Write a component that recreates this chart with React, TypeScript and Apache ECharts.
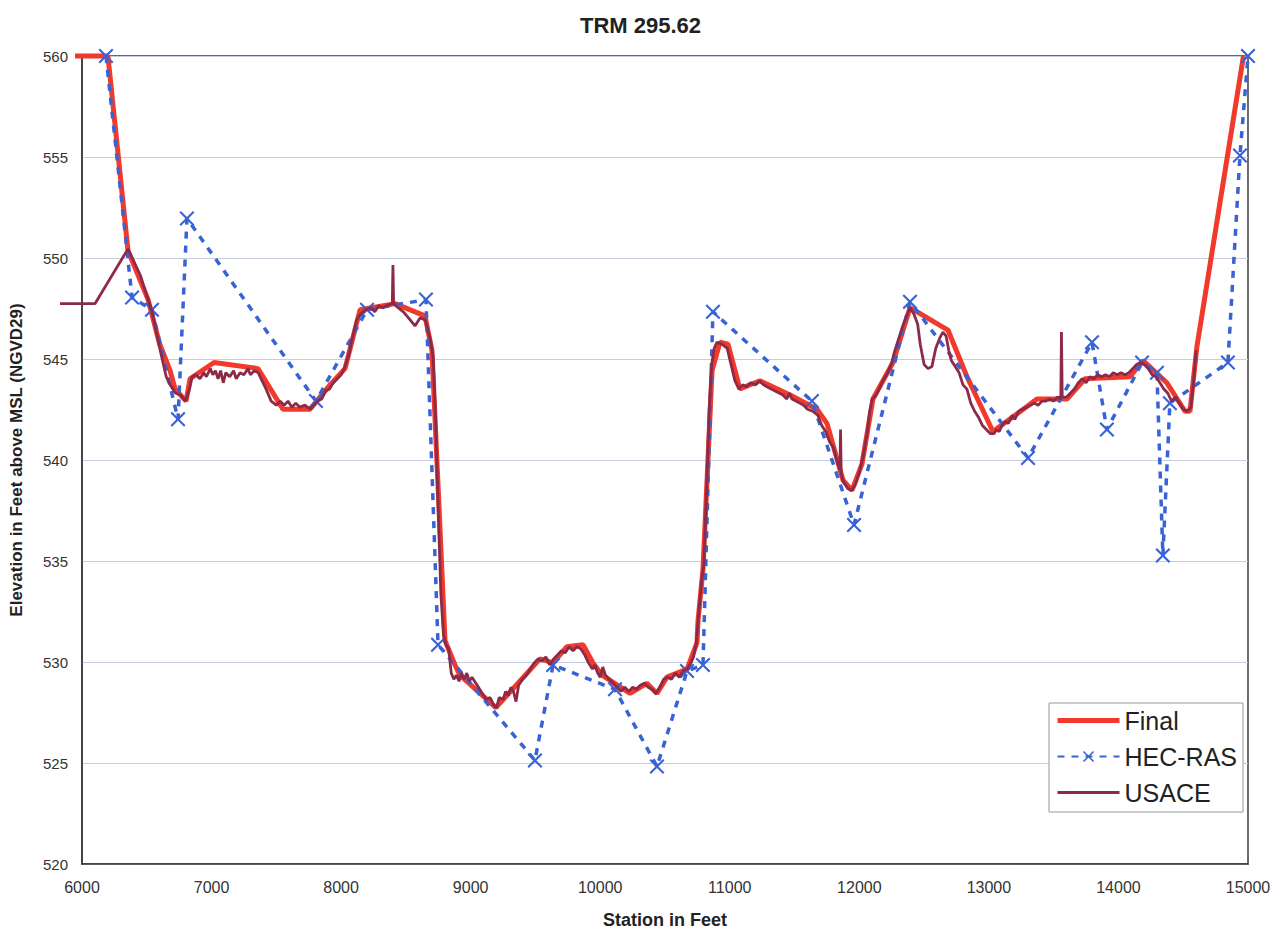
import React, { useEffect, useRef } from "react";
import * as echarts from "echarts";

// Cross-section TRM 295.62 — station (ft) vs elevation (ft, NGVD29)

const titleText = "TRM 295.62";
const xTicks = { min: 6000, max: 15000, interval: 1000 };
const yTicks = { min: 520, max: 560, interval: 5 };
// The plotted lines start a little before station 6000 and run past the left axis
const dataStationMin = 5830;

// Final adopted section
const finalStation = [
  5946, 6200, 6355, 6510, 6600, 6680, 6718, 6803, 6834, 7019, 7358, 7551, 7760, 7914,
  8030, 8146, 8416, 8647, 8701, 8802, 8879, 8917, 9195, 9535, 9636, 9743, 9867, 9944,
  10014, 10230, 10360, 10438, 10515, 10670, 10747, 10755, 10793, 10863, 10924, 10986,
  11078, 11233, 11465, 11673, 11750, 11874, 11943, 12020, 12105, 12260, 12391, 12684,
  12831, 13031, 13371, 13603, 13742, 14089, 14190, 14374, 14514, 14552, 14606, 14965,
];
const finalElev = [
  560.0, 560.0, 550.4, 548.0, 545.8, 544.5, 543.6, 543.0, 544.1, 544.9, 544.6, 542.6, 542.6, 543.8,
  544.6, 547.5, 547.8, 547.2, 545.5, 531.2, 530.0, 529.5, 527.9, 530.3, 530.1, 530.9, 531.0, 530.1,
  529.5, 528.6, 529.1, 528.6, 529.4, 529.8, 531.1, 532.2, 534.7, 544.5, 545.9, 545.8,
  543.6, 544.0, 543.3, 542.6, 541.9, 539.1, 538.6, 539.9, 543.1, 544.9, 547.6, 546.5,
  544.2, 541.5, 543.1, 543.1, 544.1, 544.2, 545.0, 543.9, 542.5, 542.5, 545.7, 560.0,
];

// HEC-RAS model section
const hecStation = [
  6185, 6386, 6540, 6741, 6810, 7806, 8200, 8655, 8748, 9496, 9636, 10114, 10438, 10670,
  10793, 10870, 11634, 11959, 12391, 13302, 13796, 13911, 14182, 14297, 14343, 14397,
  14845, 14938, 15000,
];
const hecElev = [
  560.0, 548.1, 547.5, 542.1, 552.0, 543.0, 547.5, 548.0, 531.0, 525.3, 530.0, 528.8, 525.0, 529.7,
  530.0, 547.4, 543.0, 536.9, 547.9, 540.2, 545.9, 541.6, 544.9, 544.4, 535.4, 542.9,
  544.9, 555.1, 560.0,
];

// USACE surveyed section
const usaceStation = [
  5830, 6100, 6355, 6450, 6540, 6600, 6650, 6680, 6720, 6760, 6800, 6830, 6850, 6880, 6910,
  6940, 6960, 6990, 7010, 7030, 7050, 7070, 7090, 7110, 7140, 7170, 7190, 7220, 7250, 7280,
  7300, 7330, 7360, 7390, 7420, 7460, 7500, 7530, 7560, 7590, 7620, 7650, 7680, 7720, 7760,
  7790, 7820, 7850, 7880, 7910, 7940, 7970, 8000, 8030, 8060, 8090, 8120, 8150, 8190, 8230,
  8260, 8290, 8320, 8350, 8395, 8400, 8405, 8440, 8480, 8520, 8570, 8610, 8650, 8690, 8710,
  8730, 8750, 8770, 8790, 8810, 8830, 8850, 8870, 8890, 8910, 8930, 8950, 8970, 8990, 9010,
  9030, 9060, 9090, 9120, 9150, 9180, 9200, 9220, 9250, 9270, 9290, 9310, 9330, 9350, 9370,
  9400, 9430, 9460, 9490, 9520, 9550, 9580, 9610, 9640, 9670, 9700, 9730, 9760, 9790, 9820,
  9850, 9880, 9910, 9940, 9960, 9980, 10000, 10020, 10040, 10070, 10100, 10130, 10160, 10190,
  10220, 10250, 10280, 10310, 10340, 10370, 10400, 10430, 10460, 10490, 10520, 10550, 10580,
  10610, 10640, 10670, 10700, 10720, 10740, 10760, 10780, 10800, 10820, 10840, 10860, 10880,
  10900, 10940, 10980, 11010, 11040, 11070, 11100, 11130, 11160, 11200, 11230, 11260, 11290,
  11320, 11350, 11380, 11410, 11440, 11460, 11480, 11510, 11540, 11570, 11600, 11640, 11680,
  11710, 11740, 11770, 11800, 11830, 11850, 11855, 11860, 11880, 11910, 11940, 11970, 12000,
  12030, 12060, 12080, 12100, 12130, 12160, 12190, 12220, 12250, 12270, 12300, 12340, 12391,
  12420, 12450, 12470, 12500, 12530, 12560, 12590, 12620, 12645, 12670, 12690, 12710, 12740,
  12770, 12800, 12830, 12860, 12890, 12920, 12950, 12980, 13010, 13040, 13060, 13080, 13100,
  13130, 13150, 13180, 13200, 13230, 13260, 13290, 13320, 13350, 13380, 13410, 13440, 13470,
  13500, 13530, 13555, 13560, 13566, 13600, 13630, 13660, 13690, 13720, 13750, 13780, 13810,
  13840, 13870, 13900, 13930, 13960, 13990, 14020, 14050, 14080, 14110, 14140, 14170, 14200,
  14230, 14260, 14290, 14320, 14350, 14380, 14410, 14440, 14470, 14500, 14530, 14560, 14580,
  14600,
];
const usaceElev = [
  547.8, 547.8, 550.5, 549.2, 547.4, 545.6, 544.2, 543.8, 543.4, 543.3, 543.0, 543.6, 544.2, 544.3, 544.1,
  544.4, 544.2, 544.6, 544.3, 544.5, 544.1, 544.5, 543.9, 544.4, 544.2, 544.5, 544.1, 544.4, 544.3, 544.6,
  544.3, 544.5, 544.4, 544.0, 543.6, 543.0, 542.8, 543.0, 542.8, 543.0, 542.7, 542.9, 542.7, 542.8, 542.6,
  542.8, 543.0, 543.1, 543.5, 543.6, 543.9, 544.1, 544.3, 544.7, 545.3, 546.2, 547.0, 547.3, 547.5, 547.6,
  547.4, 547.7, 547.6, 547.7, 547.8, 549.7, 547.8, 547.6, 547.4, 547.1, 546.7, 547.1, 547.0, 546.0, 545.2,
  542.0, 537.5, 533.5, 531.5, 531.0, 530.8, 529.6, 529.3, 529.5, 529.2, 529.6, 529.3, 529.6, 529.2, 529.4,
  529.2, 528.9, 528.6, 528.3, 528.4, 528.0, 527.9, 528.4, 528.3, 528.7, 528.5, 528.9, 528.7, 528.2, 529.0,
  529.3, 529.5, 529.8, 530.1, 530.3, 530.2, 530.4, 530.0, 530.3, 530.5, 530.7, 530.6, 530.9, 530.7, 530.9,
  530.8, 530.5, 530.1, 529.8, 530.0, 529.6, 529.4, 529.9, 529.5, 529.3, 529.1, 528.9, 528.7, 528.9,
  528.7, 528.9, 528.8, 529.0, 529.1, 528.9, 528.8, 528.6, 528.9, 529.3, 529.4, 529.3, 529.6,
  529.4, 529.7, 529.8, 530.1, 530.4, 531.0, 532.5, 534.0, 535.0, 538.5, 542.5, 544.8, 545.6,
  545.9, 545.8, 545.6, 544.8, 544.0, 543.6, 543.8, 543.7, 543.9, 543.8, 544.0, 543.8, 543.7,
  543.6, 543.5, 543.4, 543.3, 543.1, 543.4, 543.1, 543.0, 542.9, 542.8, 542.6, 542.5, 542.3,
  541.8, 541.5, 541.0, 540.7, 540.0, 539.6, 541.6, 539.4, 539.0, 538.7, 538.6, 538.9, 539.5,
  540.3, 541.4, 542.5, 543.1, 543.3, 543.7, 544.1, 544.4, 544.9, 545.4, 546.0, 546.8, 547.6,
  547.3, 546.8, 545.8, 544.8, 544.6, 544.7, 545.6, 546.1, 546.4, 546.2, 545.5, 545.0, 544.7,
  544.4, 543.8, 543.6, 542.9, 542.5, 542.2, 541.8, 541.6, 541.4, 541.4, 541.6, 541.5, 541.8,
  542.0, 541.9, 542.3, 542.1, 542.5, 542.6, 542.7, 542.8, 542.9, 542.8, 543.0, 543.0, 543.1,
  543.0, 543.2, 543.1, 546.4, 543.2, 543.2, 543.4, 543.6, 543.9, 544.1, 543.9, 544.2, 544.1,
  544.3, 544.2, 544.3, 544.2, 544.4, 544.3, 544.4, 544.3, 544.4, 544.6, 544.8, 544.9, 544.8,
  544.6, 544.3, 544.2, 543.9, 543.6, 543.4, 543.0, 543.2, 542.9, 542.6, 542.5, 542.7, 544.0,
  545.5,
];

const zip = (xs: number[], ys: number[]) => xs.map((x, i) => [x, ys[i]]);

// Filled "x" marker outline (10x10 box)
const crossSymbol =
  "path://M0,1L1,0L5,4L9,0L10,1L6,5L10,9L9,10L5,6L1,10L0,9L4,5Z";

const FONT = "'Liberation Sans', Arial, sans-serif";
const RED = "#f23a2c";
const BLUE = "#3863d6";
const MAROON = "#8c2a47";

// Frame of the visible axes, and a slightly wider frame that carries the lines
const PLOT = { left: 82, right: 33, top: 56, bottom: 66 };
const DATA_LEFT = 60;

export default function App() {
  const ref = useRef<HTMLDivElement>(null);

  useEffect(() => {
    if (!ref.current) return;
    const chart = echarts.init(ref.current, undefined, { renderer: "svg" });
    chart.setOption({
      animation: false,
      backgroundColor: "#ffffff",
      textStyle: { fontFamily: FONT },
      title: {
        text: titleText,
        left: "center",
        top: 9,
        textStyle: { fontFamily: FONT, fontSize: 22, fontWeight: "bold", color: "#222" },
      },
      grid: [
        {
          ...PLOT,
          show: true,
          borderColor: "#3a3a3a",
          borderWidth: 1.5,
          backgroundColor: "transparent",
        },
        { ...PLOT, left: DATA_LEFT, show: false },
      ],
      legend: {
        orient: "vertical",
        left: 1049,
        top: 703,
        padding: [4, 6, 6, 6],
        itemWidth: 62,
        itemHeight: 14,
        itemGap: 9,
        backgroundColor: "#ffffff",
        borderColor: "#999",
        borderWidth: 1,
        textStyle: { fontFamily: FONT, fontSize: 25, color: "#222", lineHeight: 27 },
        data: [
          { name: "Final", itemStyle: { opacity: 0 }, lineStyle: { width: 5, color: RED } },
          { name: "HEC-RAS" },
          { name: "USACE", itemStyle: { opacity: 0 }, lineStyle: { width: 3, color: MAROON } },
        ],
      },
      xAxis: [
        {
          type: "value",
          gridIndex: 0,
          min: xTicks.min,
          max: xTicks.max,
          interval: xTicks.interval,
          name: "Station in Feet",
          nameLocation: "middle",
          nameGap: 47,
          nameTextStyle: { fontFamily: FONT, fontSize: 18, fontWeight: "bold", color: "#222" },
          axisLine: { show: true, lineStyle: { color: "#3a3a3a", width: 1.5 } },
          axisTick: { show: false },
          axisLabel: {
            fontFamily: FONT,
            fontSize: 16,
            color: "#333",
            margin: 15,
            formatter: (v: number) => String(v),
          },
          splitLine: { show: false },
        },
        {
          type: "value",
          gridIndex: 1,
          min: dataStationMin,
          max: xTicks.max,
          show: false,
        },
      ],
      yAxis: [
        {
          type: "value",
          gridIndex: 0,
          min: yTicks.min,
          max: yTicks.max,
          interval: yTicks.interval,
          name: "Elevation in Feet above MSL (NGVD29)",
          nameLocation: "middle",
          nameGap: 57,
          nameTextStyle: { fontFamily: FONT, fontSize: 17, fontWeight: "bold", color: "#222" },
          axisLine: { show: true, lineStyle: { color: "#3a3a3a", width: 1.5 } },
          axisTick: { show: false },
          axisLabel: { fontFamily: FONT, fontSize: 15, color: "#333", margin: 14 },
          splitLine: { show: true, lineStyle: { color: "#c6cde0", width: 1 } },
        },
        {
          type: "value",
          gridIndex: 1,
          min: yTicks.min,
          max: yTicks.max,
          show: false,
        },
      ],
      series: [
        {
          name: "Final",
          type: "line",
          xAxisIndex: 1,
          yAxisIndex: 1,
          data: zip(finalStation, finalElev),
          symbol: "none",
          clip: false,
          color: RED,
          lineStyle: { color: RED, width: 5 },
          z: 2,
        },
        {
          name: "HEC-RAS",
          type: "line",
          xAxisIndex: 1,
          yAxisIndex: 1,
          data: zip(hecStation, hecElev),
          symbol: crossSymbol,
          symbolSize: 15,
          showSymbol: true,
          clip: false,
          color: BLUE,
          itemStyle: { color: BLUE },
          lineStyle: { color: BLUE, width: 3.5, type: [7, 7] },
          z: 3,
        },
        {
          name: "USACE",
          type: "line",
          xAxisIndex: 1,
          yAxisIndex: 1,
          data: zip(usaceStation, usaceElev),
          symbol: "none",
          clip: false,
          color: MAROON,
          lineStyle: { color: MAROON, width: 2.8 },
          z: 4,
        },
      ],
    });
    return () => chart.dispose();
  }, []);

  return <div ref={ref} style={{ width: 1281, height: 934, position: "absolute", left: 0, top: 0 }} />;
}
